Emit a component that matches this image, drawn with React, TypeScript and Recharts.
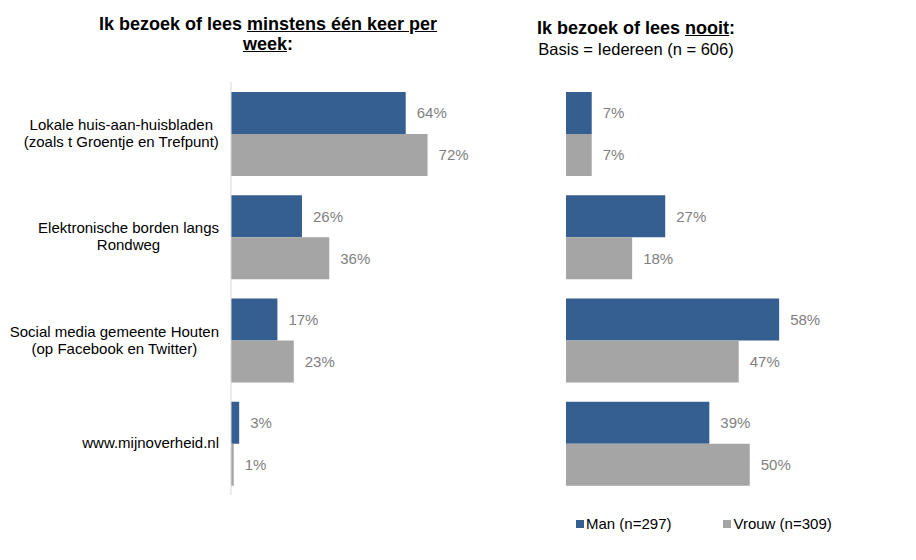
import { BarChart, Bar, XAxis, YAxis, LabelList } from "recharts";

const categories = [
  ["Lokale huis-aan-huisbladen", "(zoals t Groentje en Trefpunt)"],
  ["Elektronische borden langs", "Rondweg"],
  ["Social media gemeente Houten", "(op Facebook en Twitter)"],
  ["www.mijnoverheid.nl"],
];
const weeklyMan = [64, 26, 17, 3];
const weeklyVrouw = [72, 36, 23, 1];
const neverMan = [7, 27, 58, 39];
const neverVrouw = [7, 18, 47, 50];
const seriesNames = ["Man (n=297)", "Vrouw (n=309)"];

const BLUE = "#365f91";
const GREY = "#a5a5a5";
const FONT = "'Liberation Sans', Arial, sans-serif";

const weeklyData = categories.map((c, i) => ({
  name: c.join("\n"),
  man: weeklyMan[i],
  vrouw: weeklyVrouw[i],
}));
const neverData = categories.map((c, i) => ({
  name: c.join("\n"),
  man: neverMan[i],
  vrouw: neverVrouw[i],
}));

let ctx: CanvasRenderingContext2D | null = null;
const measure = (s: string) => {
  if (!ctx) ctx = document.createElement("canvas").getContext("2d");
  if (!ctx) return s.length * 7.5;
  ctx.font = "15px 'Liberation Sans'";
  return ctx.measureText(s).width;
};

const CategoryTick = (props: any) => {
  const { x, y, payload } = props;
  const lines: string[] = String(payload.value).split("\n");
  const w = Math.max(...lines.map(measure));
  const cx = x - 4 - w / 2;
  const lh = 17;
  const y0 = y - ((lines.length - 1) * lh) / 2 + 5;
  return (
    <text textAnchor="middle" fontSize={15} fontFamily={FONT} fill="#000">
      {lines.map((l, i) => (
        <tspan key={i} x={cx} y={y0 + i * lh}>
          {l}
        </tspan>
      ))}
    </text>
  );
};

const pct = (v: any) => `${v}%`;
const labelStyle = { fill: "#7f7f7f", fontSize: 15, fontFamily: FONT };

export default function App() {
  return (
    <div
      style={{
        position: "absolute",
        left: 0,
        top: 0,
        width: 916,
        height: 560,
        background: "#fff",
        fontFamily: FONT,
      }}
    >
      <div
        style={{
          position: "absolute",
          left: 68,
          width: 400,
          top: 14,
          textAlign: "center",
          fontWeight: "bold",
          fontSize: 18,
          lineHeight: "20px",
        }}
      >
        Ik bezoek of lees <u>minstens één keer per</u>
        <br />
        <u>week</u>:
      </div>
      <div
        style={{
          position: "absolute",
          left: 486,
          width: 300,
          top: 18,
          textAlign: "center",
          lineHeight: "21px",
        }}
      >
        <div style={{ fontWeight: "bold", fontSize: 18 }}>
          Ik bezoek of lees <u>nooit</u>:
        </div>
        <div style={{ fontSize: 16.5 }}>Basis = Iedereen (n = 606)</div>
      </div>

      <div style={{ position: "absolute", left: 0, top: 0 }}>
        <BarChart
          width={520}
          height={560}
          data={weeklyData}
          layout="vertical"
          margin={{ top: 82, right: 16, bottom: 65, left: 0 }}
          barCategoryGap={10}
          barGap={0}
        >
          <XAxis type="number" domain={[0, 100]} hide />
          <YAxis
            type="category"
            dataKey="name"
            width={231}
            axisLine={{ stroke: "#d9d9d9" }}
            tickLine={false}
            tick={<CategoryTick />}
            interval={0}
          />
          <Bar dataKey="man" name={seriesNames[0]} fill={BLUE} isAnimationActive={false}>
            <LabelList dataKey="man" position="right" offset={11} formatter={pct} style={labelStyle} />
          </Bar>
          <Bar dataKey="vrouw" name={seriesNames[1]} fill={GREY} isAnimationActive={false}>
            <LabelList dataKey="vrouw" position="right" offset={11} formatter={pct} style={labelStyle} />
          </Bar>
        </BarChart>
      </div>

      <div style={{ position: "absolute", left: 520, top: 0 }}>
        <BarChart
          width={396}
          height={560}
          data={neverData}
          layout="vertical"
          margin={{ top: 82, right: 56, bottom: 65, left: 46 }}
          barCategoryGap={10}
          barGap={0}
        >
          <XAxis type="number" domain={[0, 80]} hide />
          <YAxis type="category" dataKey="name" hide />
          <Bar dataKey="man" name={seriesNames[0]} fill={BLUE} isAnimationActive={false}>
            <LabelList dataKey="man" position="right" offset={11} formatter={pct} style={labelStyle} />
          </Bar>
          <Bar dataKey="vrouw" name={seriesNames[1]} fill={GREY} isAnimationActive={false}>
            <LabelList dataKey="vrouw" position="right" offset={11} formatter={pct} style={labelStyle} />
          </Bar>
        </BarChart>
      </div>

      <div
        style={{
          position: "absolute",
          top: 515,
          left: 576,
          fontSize: 15,
          display: "flex",
          lineHeight: "18px",
        }}
      >
        {seriesNames.map((n, i) => (
          <div
            key={n}
            style={{ display: "flex", alignItems: "center", marginRight: 52 }}
          >
            <span
              style={{
                display: "inline-block",
                width: 8,
                height: 8,
                background: i === 0 ? BLUE : GREY,
                marginRight: 2,
              }}
            />
            {n}
          </div>
        ))}
      </div>
    </div>
  );
}
